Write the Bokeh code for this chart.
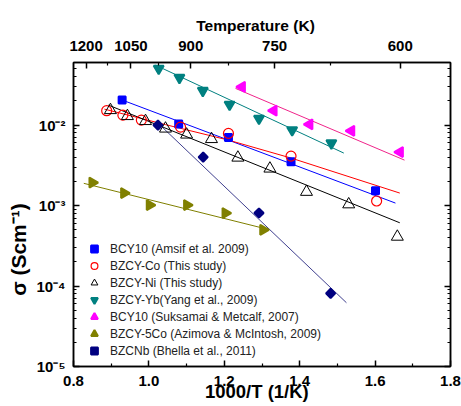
import math
from bokeh.plotting import figure
from bokeh.models import (Range1d, LinearAxis, LogAxis, FixedTicker, CustomJSTickFormatter,
                          Legend, LegendItem)
from bokeh.embed import file_html
from bokeh.resources import INLINE

# ---------------- data (1000/T in 1/K, conductivity in S/cm) ----------------
amsif_x = [0.929, 1.079, 1.211, 1.377, 1.601]
amsif_y = [0.0205, 0.0103, 0.00704, 0.0035, 0.00153]
amsif_fit_x = [0.929, 1.654]
amsif_fit_y = [0.0205, 0.001074]

co_x = [0.888, 0.931, 0.980, 1.084, 1.211, 1.377, 1.604]
co_y = [0.0151, 0.0133, 0.01154, 0.00944, 0.00789, 0.00412, 0.00114]
co_fit_x = [0.882, 1.044, 1.211, 1.3775, 1.6655]
co_fit_y = [0.0158, 0.01014, 0.00651, 0.00389, 0.00143]

ni_x = [0.898, 0.943, 0.991, 1.044, 1.100, 1.166, 1.236, 1.321, 1.418, 1.530, 1.659]
ni_y = [0.01535, 0.01294, 0.01122, 0.00905, 0.00762, 0.0067, 0.00394, 0.00288,
        0.00148, 0.001035, 0.00041]
ni_fit_x = [0.893, 1.6655]
ni_fit_y = [0.0177, 0.000611]

yb_x = [1.026, 1.081, 1.143, 1.214, 1.292, 1.380, 1.484]
yb_y = [0.0504, 0.0389, 0.0268, 0.0180, 0.01205, 0.00867, 0.00597]
yb_fit_x = [1.0175, 1.517]
yb_fit_y = [0.0556, 0.00449]

suk_x = [1.247, 1.331, 1.426, 1.537, 1.666]
suk_y = [0.0299, 0.0151, 0.01023, 0.0085, 0.00463]
suk_fit_x = [1.2297, 1.678]
suk_fit_y = [0.0286, 0.00367]

co5_x = [0.850, 0.934, 1.002, 1.101, 1.203, 1.303]
co5_y = [0.00193, 0.00143, 0.001014, 0.001014, 0.000807, 0.0005]
co5_fit_x = [0.8273, 1.318]
co5_fit_y = [0.00189, 0.000503]

nb_x = [1.024, 1.144, 1.292, 1.482]
nb_y = [0.0100, 0.0040, 0.000807, 0.000081]
nb_fit_x = [1.020, 1.524]
nb_fit_y = [0.01105, 0.000062]

series_labels = ["BCY10 (Amsif et al. 2009)", "BZCY-Co (This study)", "BZCY-Ni (This study)",
                 "BZCY-Yb(Yang et al., 2009)", "BCY10 (Suksamai & Metcalf, 2007)",
                 "BZCY-5Co (Azimova & McIntosh, 2009)", "BZCNb (Bhella et al., 2011)"]

x_ticks = [0.8, 1.0, 1.2, 1.4, 1.6, 1.8]
x_tick_labels = ["0.8", "1.0", "1.2", "1.4", "1.6", "1.8"]
x_minor = [0.9, 1.1, 1.3, 1.5, 1.7]
y_ticks = [1e-5, 1e-4, 1e-3, 1e-2]
y_tick_labels = ["10\u207b\u2075", "10\u207b\u2074", "10\u207b\u00b3", "10\u207b\u00b2"]
temp_ticks = [1200, 1050, 900, 750, 600]
temp_tick_labels = ["1200", "1050", "900", "750", "600"]
temp_minor = [1125, 975, 825, 675]

FONT = "Liberation Sans"
NB = "\u00a0"


def fmt(tick_values, labels):
    return CustomJSTickFormatter(args=dict(tv=list(tick_values), tl=list(labels)), code="""
let best = 0; let d = Infinity;
for (let i = 0; i < tv.length; i++) {
  const dd = Math.abs(Math.log(tv[i]) - Math.log(tick));
  if (dd < d) { d = dd; best = i; }
}
return tl[best];
""")


y_minor = []
for dec in [1e-5, 1e-4, 1e-3, 1e-2]:
    for k in range(2, 10):
        v = k * dec
        if v <= 0.06:
            y_minor.append(v)

p = figure(width=461, height=406, x_range=Range1d(0.8, 1.8), y_range=Range1d(1e-5, 0.06),
           y_axis_type="log", output_backend="svg", toolbar_location=None,
           min_border_left=73, min_border_right=11, min_border_top=62, min_border_bottom=40)
p.title.visible = False
p.xgrid.visible = False
p.ygrid.visible = False
p.outline_line_color = "black"
p.outline_line_width = 1.5
p.background_fill_color = "white"
p.border_fill_color = "white"

xa = p.xaxis[0]
xa.ticker = FixedTicker(ticks=x_ticks, minor_ticks=x_minor)
xa.formatter = fmt(x_ticks, x_tick_labels)
ya = p.yaxis[0]
ya.ticker = FixedTicker(ticks=y_ticks, minor_ticks=y_minor)
ya.formatter = fmt(y_ticks, y_tick_labels)

temp_pos = [1000.0 / t for t in temp_ticks]
temp_minor_pos = [1000.0 / t for t in temp_minor]
top = LinearAxis(ticker=FixedTicker(ticks=temp_pos, minor_ticks=temp_minor_pos),
                 formatter=fmt(temp_pos, temp_tick_labels))
p.add_layout(top, "above")
right = LogAxis(ticker=FixedTicker(ticks=y_ticks, minor_ticks=y_minor),
                formatter=fmt(y_ticks, ["", "", "", ""]))
p.add_layout(right, "right")

for ax in [xa, ya, top, right]:
    ax.axis_line_width = 1.5
    ax.major_tick_in = 6
    ax.major_tick_out = 0
    ax.minor_tick_in = 3
    ax.minor_tick_out = 0
    ax.major_tick_line_width = 1.5
    ax.minor_tick_line_width = 1.2
    ax.major_label_text_font = FONT
    ax.major_label_text_font_style = "bold"
    ax.major_label_text_font_size = "15px"
    ax.major_label_text_color = "black"
    ax.axis_label_text_font = FONT
    ax.axis_label_text_font_style = "bold"
    ax.axis_label_text_color = "black"
right.major_label_standoff = 0
right.major_label_text_font_size = "1px"

xa.axis_label = "1000/T (1/K)" + NB * 2
xa.axis_label_text_font_size = "18.5px"
xa.major_label_standoff = 9
xa.axis_label_standoff = -8

top.axis_label = "Temperature (K)" + NB * 3
top.axis_label_text_font_size = "15.5px"
top.major_label_standoff = 12
top.axis_label_standoff = 4

ya.axis_label = "\u03c3 (Scm\u207b\u00b9)" + NB * 12
ya.axis_label_text_font_size = "21px"
ya.major_label_standoff = 8
ya.axis_label_standoff = 3

# fit lines
p.line(amsif_fit_x, amsif_fit_y, line_color="#0000ff", line_width=1)
p.line(co_fit_x, co_fit_y, line_color="#ff0000", line_width=1)
p.line(ni_fit_x, ni_fit_y, line_color="black", line_width=1)
p.line(yb_fit_x, yb_fit_y, line_color="#008080", line_width=1)
p.line(suk_fit_x, suk_fit_y, line_color="#f0248a", line_width=1)
p.line(co5_fit_x, co5_fit_y, line_color="#808000", line_width=1)
p.line(nb_fit_x, nb_fit_y, line_color="#40408f", line_width=1)

r1 = p.scatter(amsif_x, amsif_y, marker="square", size=7, fill_color="#0000ff", line_color="#0000ff", line_width=2)
r2 = p.scatter(co_x, co_y, marker="circle", size=10, fill_color=None, line_color="#ff0000", line_width=1.2)
r3 = p.scatter(ni_x, ni_y, marker="triangle", size=12, fill_color=None, line_color="black", line_width=1)
r4 = p.scatter(yb_x, yb_y, marker="inverted_triangle", size=10, fill_color="#008080", line_color="#008080", line_width=2)
r5 = p.scatter(suk_x, suk_y, marker="triangle", angle=math.pi / 2, size=10, fill_color="#ff00ff",
               line_color="#ff00ff", line_width=2)
r6 = p.scatter(co5_x, co5_y, marker="triangle", angle=-math.pi / 2, size=10, fill_color="#808000",
               line_color="#808000", line_width=2)
r7 = p.scatter(nb_x, nb_y, marker="square", angle=math.pi / 4, size=6.5, fill_color="#000080",
               line_color="#000080", line_width=2)

legend = Legend(items=[LegendItem(label=l, renderers=[r]) for l, r in
                       zip(series_labels, [r1, r2, r3, r4, r5, r6, r7])],
                location=(11, 7), padding=0, spacing=0, glyph_height=17, glyph_width=20,
                label_height=17, label_standoff=6, border_line_alpha=0, background_fill_alpha=0,
                label_text_font=FONT, label_text_font_size="12px", label_text_color="#222222")
p.add_layout(legend, "center")

open("out.html", "w").write(file_html(p, INLINE))
